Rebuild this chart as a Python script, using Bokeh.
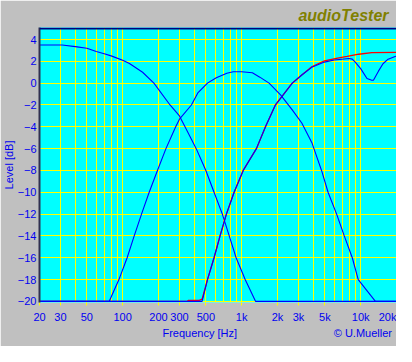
from bokeh.plotting import figure
from bokeh.models import FixedTicker, Range1d, Span, Title, LogAxis
from bokeh.embed import file_html
from bokeh.resources import INLINE

# ---- data ----
lp_freq = [20, 31, 40, 50, 60, 70, 80, 100, 114, 147, 183, 250, 300, 334, 415, 500, 586, 688, 786, 898, 1070, 1310, 20000]
lp_db = [3.5, 3.5, 3.35, 3.2, 2.9, 2.7, 2.5, 2.1, 1.8, 1.0, 0.0, -2.0, -3.0, -4.0, -6.0, -8.0, -10.0, -12.0, -14.0, -16.0, -18.0, -20.0, -20.0]

bp_freq = [20, 77, 93, 109, 125, 144, 167, 196, 231, 279, 300, 378, 428, 516, 612, 750, 850, 1000, 1230, 1420, 1700, 2130, 2660, 3200, 3890, 4200, 4690, 5320, 6280, 7280, 8500, 9540, 13300, 20000]
bp_db = [-20, -20, -18, -16, -14, -12, -10, -8, -6, -4, -3.3, -2, -0.9, 0.0, 0.5, 0.9, 1.05, 1.05, 0.95, 0.55, 0.0, -1.1, -2.45, -3.65, -5.45, -6.5, -8, -10, -12, -14, -16, -18, -20, -20]

hp_freq = [20, 465, 516, 586, 658, 744, 864, 1030, 1330, 1585, 1920, 2660, 3200, 3880, 4960, 6000, 7270, 8000, 8500, 9000, 10000, 11300, 12400, 12800, 14100, 15400, 17000, 19700, 20000]
hp_db = [-20, -20, -18, -16, -14, -12, -10, -8, -6, -4, -2, 0.0, 0.75, 1.45, 1.93, 2.12, 2.22, 2.26, 2.2, 1.93, 1.33, 0.42, 0.27, 0.27, 1.1, 1.78, 2.2, 2.47, 2.5]

sum_freq = [20, 350, 355, 440, 465, 516, 586, 658, 744, 864, 1030, 1330, 1585, 1920, 2660, 3200, 3880, 4960, 6400, 7700, 9630, 12400, 20000]
sum_db = [-20, -20, -19.9, -19.9, -19.8, -18, -16, -14, -12, -10, -8, -6, -4, -2, 0.0, 0.75, 1.5, 2.05, 2.3, 2.45, 2.65, 2.8, 2.82]

x_grid = [20, 30, 40, 50, 60, 70, 80, 90, 100, 200, 300, 400, 500, 600, 700, 800, 900,
          1000, 2000, 3000, 4000, 5000, 6000, 7000, 8000, 9000, 10000, 20000]
x_ticks = [20, 30, 50, 100, 200, 300, 500, 1000, 2000, 3000, 5000, 10000, 20000]
x_tick_labels = ["20", "30", "50", "100", "200", "300", "500", "1k", "2k", "3k", "5k", "10k", "20k"]
y_ticks = [-20, -18, -16, -14, -12, -10, -8, -6, -4, -2, 0, 2, 4]

title_text = "audioTester"
x_label = "Frequency [Hz]"
y_label = "Level [dB]"
credit = "\u00a9 U.Mueller"

# ---- layout constants ----
W, H = 396, 346
L, R, T, B = 35, 0, 23, 44
Y0, Y1 = -20.1, 5.1
PX_DEC = (W - L - R) / 3.0

def fx(px):
    """figure pixel x -> frequency (for placing text ticks)"""
    return 20 * 10 ** ((px - L) / PX_DEC)

FONT = "Liberation Sans"
BLUE_TXT = "#0000F0"

p = figure(width=W, height=H, x_axis_type="log",
           x_range=Range1d(20, 20000), y_range=Range1d(Y0, Y1),
           output_backend="svg", toolbar_location=None,
           min_border_left=L, min_border_right=R, min_border_top=T, min_border_bottom=B)

p.background_fill_color = "#00FFFF"
p.border_fill_color = "#C0C0C0"
p.outline_line_color = None

# grids
p.xgrid.ticker = FixedTicker(ticks=x_grid)
p.ygrid.ticker = FixedTicker(ticks=y_ticks)
for g in (p.xgrid[0], p.ygrid[0]):
    g.grid_line_color = "#FFFF00"
    g.grid_line_width = 1
    g.grid_line_alpha = 1.0

# axes
xa = p.xaxis[0]
xa.ticker = FixedTicker(ticks=x_ticks)
xa.major_label_overrides = {t: s for t, s in zip(x_ticks, x_tick_labels)}
xa.axis_line_color = None
xa.major_tick_line_color = "#FFFF00"
xa.major_tick_out = 3
xa.major_tick_in = 0
xa.minor_tick_line_color = None
xa.minor_tick_out = 0
xa.major_label_standoff = 5

ya = p.yaxis[0]
ya.ticker = FixedTicker(ticks=y_ticks)
ya.axis_line_color = "#303050"
ya.axis_line_width = 2
ya.major_tick_line_color = None
ya.major_tick_out = 0
ya.major_tick_in = 0
ya.minor_tick_line_color = None
ya.minor_tick_out = 0
ya.major_label_standoff = 3

for ax in (xa, ya):
    ax.major_label_text_font = FONT
    ax.major_label_text_font_size = "11px"
    ax.major_label_text_color = BLUE_TXT

# y axis title, shifted up a little like the reference
p.add_layout(Title(text=y_label, align="center", offset=21, standoff=0,
                   text_font=FONT, text_font_size="11px", text_font_style="normal",
                   text_color=BLUE_TXT), "left")

# second row below the tick labels: axis title and credit as text at fixed spots
t_freq = round(fx(197))
t_credit = round(fx(362))
lab_axis = LogAxis(ticker=FixedTicker(ticks=[t_freq, t_credit]),
                   major_label_overrides={t_freq: x_label, t_credit: credit},
                   axis_line_color=None, major_tick_line_color=None,
                   minor_tick_line_color=None, major_tick_out=0, major_tick_in=0,
                   minor_tick_out=0, major_label_standoff=1,
                   major_label_text_font=FONT, major_label_text_font_size="11px",
                   major_label_text_color=BLUE_TXT)
p.add_layout(lab_axis, "below")

# title top right
p.add_layout(Title(text=title_text, align="right", text_font=FONT, text_font_size="16px",
                   text_font_style="bold italic", text_color="#808000", standoff=8,
                   offset=8), "above")

# top border
p.add_layout(Span(location=Y1 - 0.09, dimension="width", line_color="#000080", line_width=2))

# curves
p.line(sum_freq, sum_db, line_color="#FF0000", line_width=1.3)
p.line(lp_freq, lp_db, line_color="#0000FF", line_width=1.1)
p.line(bp_freq, bp_db, line_color="#0000FF", line_width=1.1)
p.line(hp_freq, hp_db, line_color="#0000FF", line_width=1.1)

open("out.html", "w").write(file_html(p, INLINE))
